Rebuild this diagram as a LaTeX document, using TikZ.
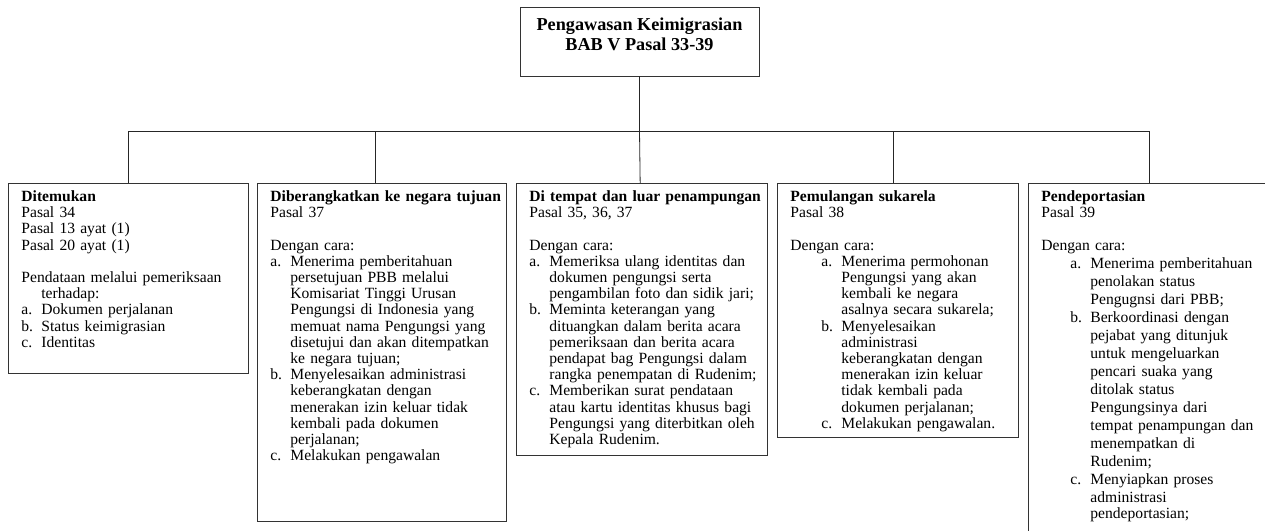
\documentclass[tikz,border=0pt]{standalone}
\usepackage{fontspec}
\setmainfont{Liberation Serif}
\newcommand{\itm}[3][0pt]{\hspace*{#1}\makebox[20pt][l]{#2}\mbox{#3}}
\newcommand{\cnt}[2][0pt]{\hspace*{\dimexpr#1+20pt\relax}\mbox{#2}}
\begin{document}
\begin{tikzpicture}[x=1pt,y=-1pt]
    \tikzset{box/.style = {draw=black!80, line width=0.8pt, anchor=north west, align=left,
        inner xsep=13pt, inner ysep=6pt, text height=12pt,
        font=\fontsize{15.6}{16.2}\selectfont}}
    \tikzset{head/.style = {draw=black!80, line width=0.8pt, align=center,
        minimum width=239pt, minimum height=69pt, text height=19pt,
        font=\fontsize{18.2}{20.5}\selectfont\bfseries}}
    \tikzset{link/.style = {draw=black!85, line width=0.8pt}}
    \useasboundingbox (0,0) rectangle (1265,530);
    \node[head] (keimigrasian) at (639.5,41.5) {Pengawasan Keimigrasian\\BAB V Pasal 33-39};
    \coordinate (hub) at (639.5,131);
    \node[box, text width=214pt, text depth=166pt] (ditemukan) at (8,183) {\textbf{Ditemukan}\\
        Pasal 34\\
        Pasal 13 ayat (1)\\
        Pasal 20 ayat (1)\\
        \mbox{}\\
        Pendataan melalui pemeriksaan\\
        \cnt{terhadap:}\\
        \itm{a.}{Dokumen perjalanan}\\
        \itm{b.}{Status keimigrasian}\\
        \itm{c.}{Identitas}};
    \node[box, text width=223pt, text depth=314pt] (berangkat) at (257,183) {\mbox{\textbf{Diberangkatkan ke negara tujuan}}\\
        Pasal 37\\
        \mbox{}\\
        Dengan cara:\\
        \itm{a.}{Menerima pemberitahuan}\\
        \cnt{persetujuan PBB melalui}\\
        \cnt{Komisariat Tinggi Urusan}\\
        \cnt{Pengungsi di Indonesia yang}\\
        \cnt{memuat nama Pengungsi yang}\\
        \cnt{disetujui dan akan ditempatkan}\\
        \cnt{ke negara tujuan;}\\
        \itm{b.}{Menyelesaikan administrasi}\\
        \cnt{keberangkatan dengan}\\
        \cnt{menerakan izin keluar tidak}\\
        \cnt{kembali pada dokumen}\\
        \cnt{perjalanan;}\\
        \itm{c.}{Melakukan pengawalan}};
    \node[box, text width=225pt, text depth=248pt] (penampungan) at (516,183) {\mbox{\textbf{Di tempat dan luar penampungan}}\\
        Pasal 35, 36, 37\\
        \mbox{}\\
        Dengan cara:\\
        \itm{a.}{Memeriksa ulang identitas dan}\\
        \cnt{dokumen pengungsi serta}\\
        \cnt{pengambilan foto dan sidik jari;}\\
        \itm{b.}{Meminta keterangan yang}\\
        \cnt{dituangkan dalam berita acara}\\
        \cnt{pemeriksaan dan berita acara}\\
        \cnt{pendapat bag Pengungsi dalam}\\
        \cnt{rangka penempatan di Rudenim;}\\
        \itm{c.}{Memberikan surat pendataan}\\
        \cnt{atau kartu identitas khusus bagi}\\
        \cnt{Pengungsi yang diterbitkan oleh}\\
        \cnt{Kepala Rudenim.}};
    \node[box, text width=215pt, text depth=230pt] (pemulangan) at (777,183) {\textbf{Pemulangan sukarela}\\
        Pasal 38\\
        \mbox{}\\
        Dengan cara:\\
        \itm[31pt]{a.}{Menerima permohonan}\\
        \cnt[31pt]{Pengungsi yang akan}\\
        \cnt[31pt]{kembali ke negara}\\
        \cnt[31pt]{asalnya secara sukarela;}\\
        \itm[31pt]{b.}{Menyelesaikan}\\
        \cnt[31pt]{administrasi}\\
        \cnt[31pt]{keberangkatan dengan}\\
        \cnt[31pt]{menerakan izin keluar}\\
        \cnt[31pt]{tidak kembali pada}\\
        \cnt[31pt]{dokumen perjalanan;}\\
        \itm[31pt]{c.}{Melakukan pengawalan.}};
    % list in this box runs at a wider line spacing
    \node[box, text width=216pt, text depth=336pt] (deportasi) at (1028,183) {\textbf{Pendeportasian}\\
        Pasal 39\\
        \mbox{}\\
        Dengan cara:\par
        \fontsize{15.6}{18}\selectfont
        \itm[29pt]{a.}{Menerima pemberitahuan}\\
        \cnt[29pt]{penolakan status}\\
        \cnt[29pt]{Pengugnsi dari PBB;}\\
        \itm[29pt]{b.}{Berkoordinasi dengan}\\
        \cnt[29pt]{pejabat yang ditunjuk}\\
        \cnt[29pt]{untuk mengeluarkan}\\
        \cnt[29pt]{pencari suaka yang}\\
        \cnt[29pt]{ditolak status}\\
        \cnt[29pt]{Pengungsinya dari}\\
        \cnt[29pt]{tempat penampungan dan}\\
        \cnt[29pt]{menempatkan di}\\
        \cnt[29pt]{Rudenim;}\\
        \itm[29pt]{c.}{Menyiapkan proses}\\
        \cnt[29pt]{administrasi}\\
        \cnt[29pt]{pendeportasian;}};
    \draw[link] (keimigrasian) -- (hub);
    \draw[link] (hub) -| (ditemukan);
    \draw[link] (hub) -| ([xshift=-6.5pt]berangkat.north);
    \draw[link] (hub) -- (penampungan);
    \draw[link] (hub) -| ([xshift=-4.5pt]pemulangan.north);
    \draw[link] (hub) -| (deportasi);
\end{tikzpicture}
\end{document}
